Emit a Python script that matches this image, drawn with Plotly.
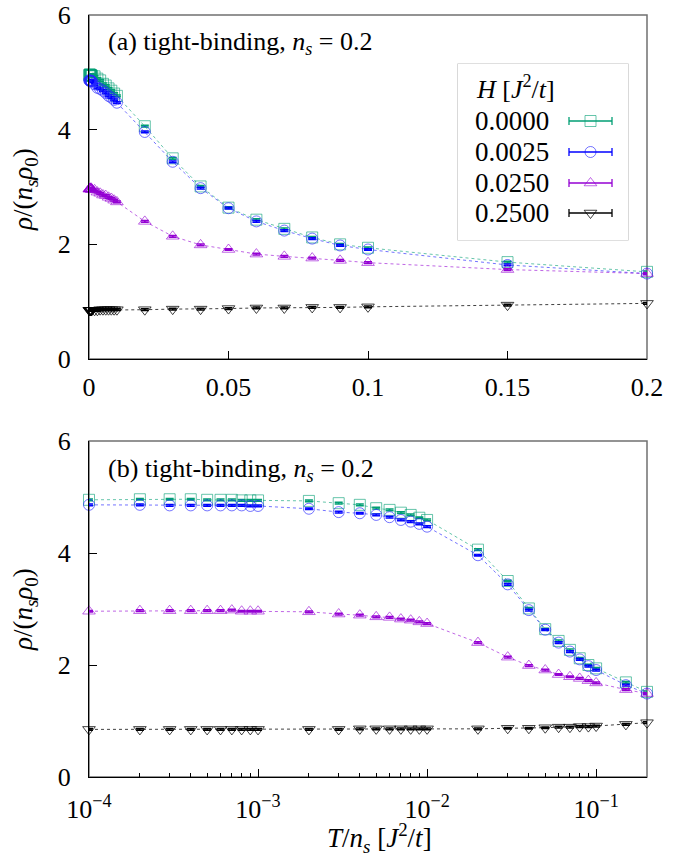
import math
import plotly.graph_objects as go

# ---------------- data ----------------
T = [1e-4, 2e-4, 3e-4, 4e-4, 5e-4, 6e-4, 7e-4, 8e-4, 9e-4, 1e-3,
     2e-3, 3e-3, 4e-3, 5e-3, 6e-3, 7e-3, 8e-3, 9e-3, 1e-2,
     0.02, 0.03, 0.04, 0.05, 0.06, 0.07, 0.08, 0.09, 0.1,
     0.15, 0.2]

rho_H0000 = [4.95, 4.96, 4.96, 4.96, 4.95, 4.95, 4.95, 4.94, 4.94, 4.94,
             4.93, 4.89, 4.86, 4.80, 4.77, 4.72, 4.68, 4.63, 4.59,
             4.06, 3.50, 3.01, 2.64, 2.43, 2.27, 2.12, 2.00, 1.94,
             1.69, 1.52]
rho_H0025 = [4.86, 4.86, 4.85, 4.85, 4.85, 4.85, 4.85, 4.85, 4.84, 4.84,
             4.79, 4.73, 4.71, 4.68, 4.64, 4.59, 4.56, 4.52, 4.47,
             3.96, 3.44, 2.98, 2.63, 2.40, 2.24, 2.10, 1.98, 1.91,
             1.64, 1.49]
rho_H0250 = [2.96, 2.97, 2.97, 2.97, 2.97, 2.97, 2.98, 2.96, 2.96, 2.96,
             2.95, 2.91, 2.89, 2.86, 2.85, 2.82, 2.80, 2.77, 2.74,
             2.40, 2.14, 1.99, 1.91, 1.83, 1.79, 1.76, 1.72, 1.68,
             1.56, 1.49]
rho_H2500 = [0.85, 0.85, 0.85, 0.85, 0.85, 0.85, 0.85, 0.85, 0.85, 0.85,
             0.85, 0.85, 0.86, 0.86, 0.86, 0.86, 0.86, 0.86, 0.86,
             0.86, 0.87, 0.87, 0.88, 0.89, 0.89, 0.90, 0.90, 0.91,
             0.94, 0.97]

H_labels = ["0.0000", "0.0025", "0.0250", "0.2500"]
series = [rho_H0000, rho_H0025, rho_H0250, rho_H2500]

top_xticks = [0, 0.05, 0.1, 0.15, 0.2]
top_xticklabels = ["0", "0.05", "0.1", "0.15", "0.2"]
bot_xticks = [1e-4, 1e-3, 1e-2, 1e-1]
bot_xticklabels = ["10<sup>\u22124</sup>", "10<sup>\u22123</sup>",
                   "10<sup>\u22122</sup>", "10<sup>\u22121</sup>"]
y_ticks = [0, 2, 4, 6]

# ---------------- style ----------------
FONT = "Liberation Serif, Times New Roman, Times, serif"
W, H = 693, 863
dark = ["#009e73", "#0000ff", "#9400d3", "#000000"]
light = ["rgba(0,158,115,0.6)", "rgba(40,40,255,0.65)",
         "rgba(148,0,211,0.6)", "rgba(0,0,0,0.75)"]
symbols = ["square-open", "circle-open", "triangle-up-open", "triangle-down-open"]


def px_x(p):
    return p / W


def px_y(p):
    return 1 - p / H


fig = go.Figure()

for xa, ya in (("x", "y"), ("x2", "y2")):
    for i, ys in enumerate(series):
        fig.add_trace(go.Scatter(
            x=T, y=ys, xaxis=xa, yaxis=ya, mode="lines+markers",
            cliponaxis=False, showlegend=False,
            line=dict(color=light[i], width=1, dash="3px,3px"),
            marker=dict(symbol=symbols[i], size=11, color=light[i],
                        line=dict(width=1, color=light[i])),
            error_y=dict(type="constant", value=0.015, color=dark[i],
                         thickness=1.5, width=4),
        ))

axis_common = dict(showline=True, linecolor="black", linewidth=1,
                   ticks="inside", ticklen=8, tickcolor="black", tickwidth=1,
                   showgrid=False, zeroline=False, mirror=False,
                   tickfont=dict(family=FONT, size=26, color="black"),
                   automargin=False)

xdom = [px_x(89), px_x(647)]
fig.update_layout(
    width=W, height=H,
    margin=dict(l=0, r=0, t=0, b=0),
    paper_bgcolor="white", plot_bgcolor="white",
    font=dict(family=FONT, size=26, color="black"),
    xaxis=dict(domain=xdom, anchor="y", range=[0, 0.2],
               tickvals=top_xticks, ticktext=top_xticklabels,
               ticklabelstandoff=5, **axis_common),
    yaxis=dict(domain=[px_y(359), px_y(15)], anchor="x", range=[0, 6],
               tickvals=y_ticks, ticklabelstandoff=12, **axis_common),
    xaxis2=dict(domain=xdom, anchor="y2", type="log",
                range=[-4, math.log10(0.2)],
                tickvals=bot_xticks, ticktext=bot_xticklabels,
                ticklabelstandoff=9,
                minor=dict(ticks="inside", ticklen=4, tickcolor="black",
                           dtick="D1", showgrid=False),
                **axis_common),
    yaxis2=dict(domain=[px_y(777), px_y(441)], anchor="x2", range=[0, 6],
                tickvals=y_ticks, ticklabelstandoff=12, **axis_common),
    # overlay axes for the hand-made key (pixel units)
    xaxis3=dict(domain=[px_x(458), px_x(628)], anchor="y3",
                range=[458, 628], visible=False, fixedrange=True),
    yaxis3=dict(domain=[px_y(240), px_y(64)], anchor="x3",
                range=[240, 64], visible=False, fixedrange=True),
)

# gray frame on top/right of each panel
for xr, yr in (("x", "y"), ("x2", "y2")):
    fig.add_shape(type="rect", xref=f"{xr} domain", yref=f"{yr} domain",
                  x0=0, x1=1, y0=0, y1=1,
                  line=dict(color="#707070", width=1.5), layer="below")

# ---------------- key (legend) ----------------
fig.add_shape(type="rect", xref="x3 domain", yref="y3 domain",
              x0=0, x1=1, y0=0, y1=1,
              line=dict(color="#c0c0c0", width=1.2), fillcolor="white",
              layer="below")
key_rows = [121, 152, 183, 213]
fig.add_annotation(xref="x3", yref="y3", x=474, y=87, xanchor="left",
                   yanchor="middle", showarrow=False,
                   text="<i>H</i> [<i>J</i><sup>2</sup>/<i>t</i>]",
                   font=dict(family=FONT, size=26))
for i, yy in enumerate(key_rows):
    fig.add_annotation(xref="x3", yref="y3", x=473, y=yy, xanchor="left",
                       yanchor="middle", showarrow=False, text=H_labels[i],
                       font=dict(family=FONT, size=27))
    fig.add_shape(type="line", xref="x3", yref="y3", x0=569, x1=612,
                  y0=yy, y1=yy, line=dict(color=dark[i], width=1.3))
    for xc in (569, 612):
        fig.add_shape(type="line", xref="x3", yref="y3", x0=xc, x1=xc,
                      y0=yy - 4, y1=yy + 4, line=dict(color=dark[i], width=1.3))
    fig.add_trace(go.Scatter(
        x=[590.5], y=[yy], xaxis="x3", yaxis="y3", mode="markers",
        showlegend=False, cliponaxis=False, hoverinfo="skip",
        marker=dict(symbol=symbols[i], size=11, color=light[i],
                    line=dict(width=1, color=light[i]))))

# ---------------- panel titles and axis titles ----------------
fig.add_annotation(xref="paper", yref="paper", x=px_x(106), y=px_y(43),
                   xanchor="left", yanchor="middle", showarrow=False,
                   text="(a) tight-binding, <i>n<sub>s</sub></i> = 0.2",
                   font=dict(family=FONT, size=26))
fig.add_annotation(xref="paper", yref="paper", x=px_x(106), y=px_y(470),
                   xanchor="left", yanchor="middle", showarrow=False,
                   text="(b) tight-binding, <i>n<sub>s</sub></i> = 0.2",
                   font=dict(family=FONT, size=26))
for yc in (189, 609):
    fig.add_annotation(xref="paper", yref="paper", x=px_x(25), y=px_y(yc),
                       xanchor="center", yanchor="middle", showarrow=False,
                       textangle=-90,
                       text="<i>\u03c1</i>/(<i>n<sub>s</sub>\u03c1</i><sub>0</sub>)",
                       font=dict(family=FONT, size=27))
fig.add_annotation(xref="paper", yref="paper", x=px_x(379), y=px_y(838),
                   xanchor="center", yanchor="middle", showarrow=False,
                   text="<i>T</i>/<i>n<sub>s</sub></i> [<i>J</i><sup>2</sup>/<i>t</i>]",
                   font=dict(family=FONT, size=27))

fig.write_html("out.html",
               config={"displayModeBar": False},
               post_script="document.body.style.margin='0';"
                           "document.body.style.padding='0';")
